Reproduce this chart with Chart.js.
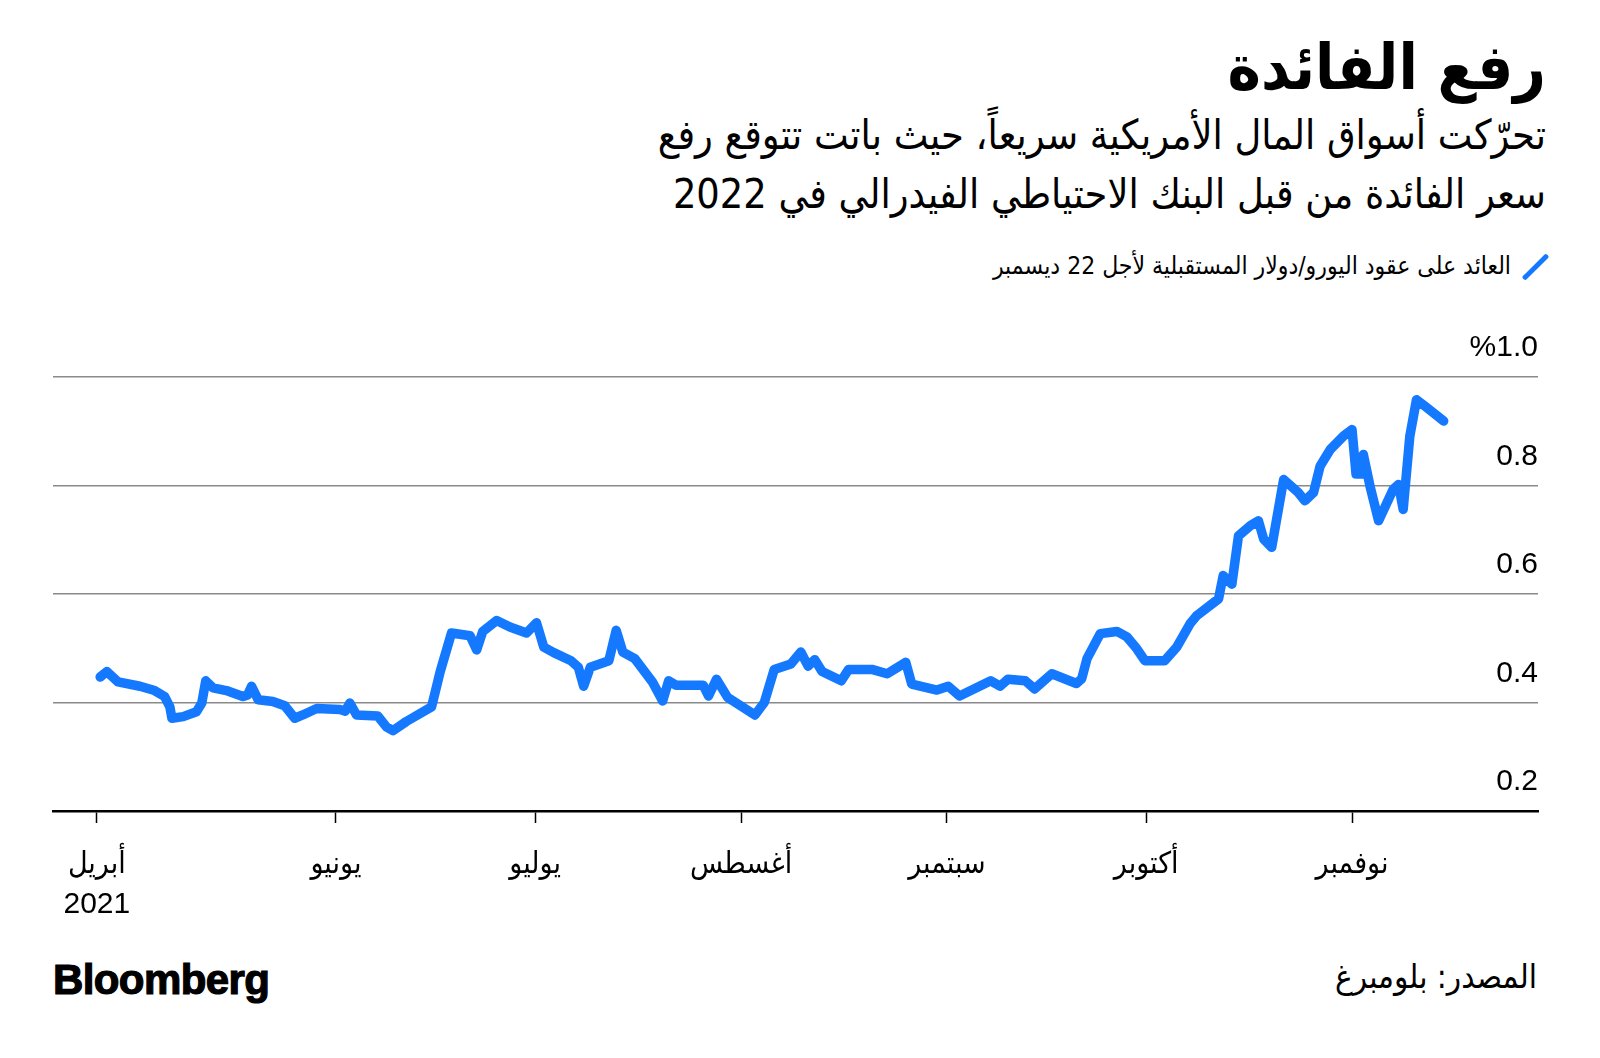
<!DOCTYPE html>
<html lang="ar">
<head>
<meta charset="utf-8">
<title>رفع الفائدة</title>
<script src="https://cdn.jsdelivr.net/npm/chart.js@4.4.1/dist/chart.umd.min.js"></script>
<style>
  html, body { margin: 0; padding: 0; background: #fff; }
  body { width: 1600px; height: 1058px; position: relative; overflow: hidden;
         font-family: "DejaVu Sans Condensed", "DejaVu Sans", sans-serif; color: #000; }
  .rtl { direction: rtl; text-align: right; position: absolute; right: 54px; white-space: nowrap; }
  #title { top: 26px; font-size: 63px; font-weight: bold; line-height: 84px; }
  #sub { top: 106px; font-size: 41px; line-height: 59px; }
  #legend { top: 250px; right: 62px; font-size: 24.5px; line-height: 30px; }
  #legend .mark { display: inline-block; width: 5px; height: 34px; background: #1479ff;
                  transform: rotate(45deg); vertical-align: middle; margin-left: 22px; border-radius: 2px; }
  #chartBox { position: absolute; left: 0; top: 300px; width: 1600px; height: 640px; }
  #logo { position: absolute; left: 53px; top: 955px; font-family: "Liberation Sans", Arial, sans-serif;
          font-weight: bold; font-size: 42px; letter-spacing: -0.6px; line-height: 50px;
          -webkit-text-stroke: 1.2px #000; }
  #source { top: 955px; right: 63px; font-size: 33px; line-height: 44px; }
</style>
</head>
<body>
<div id="title" class="rtl">رفع الفائدة</div>
<div id="sub" class="rtl">تحرّكت أسواق المال الأمريكية سريعاً، حيث باتت تتوقع رفع<br>سعر الفائدة من قبل البنك الاحتياطي الفيدرالي في 2022</div>
<div id="legend" class="rtl"><span class="mark"></span>العائد على عقود اليورو/دولار المستقبلية لأجل 22 ديسمبر</div>
<div id="chartBox"><canvas id="rateChart" width="1600" height="640"></canvas></div>
<div id="logo">Bloomberg</div>
<div id="source" class="rtl">المصدر: بلومبرغ</div>

<script>
// days counted from 1 June 2021
const dayOffsets = [-35.5,-34.5,-32.8,-29.5,-27.3,-25.8,-25.0,-24.7,-23.0,-21.0,-20.2,-19.6,-18.5,-16.5,-14.0,-13.3,-12.7,-11.7,-9.5,-7.7,
  -6.2,-5.0,-2.9,0.6,1.4,2.1,3.1,6.3,7.6,8.6,10.6,14.4,14.9,15.7,17.4,20.2,21.2,22.1,24.2,26.2,
  28.7,30.2,31.3,32.8,35.4,36.5,37.3,38.3,41.1,42.2,43.2,45.0,47.7,49.2,50.1,51.2,55.3,56.1,57.3,59.0,
  63.1,64.5,66.0,68.5,70.0,71.1,72.1,73.2,76.1,77.2,80.7,83.0,85.8,86.7,90.5,92.2,93.9,98.6,100.0,101.2,
  103.8,105.2,107.8,111.5,112.3,113.1,115.1,117.6,119.1,120.6,121.8,124.8,126.6,128.6,129.6,132.9,133.6,134.9,135.9,137.7,
  138.9,139.7,140.9,142.7,144.9,145.9,147.2,148.2,149.7,151.7,153.0,153.6,154.5,154.7,155.7,157.0,159.2,160.0,160.7,161.7,
  162.7,164.0,166.8];

const yields = [0.447,0.457,0.438,0.430,0.422,0.411,0.392,0.371,0.374,0.383,0.399,0.440,0.427,0.422,0.411,0.414,0.430,0.405,0.402,0.394,
  0.371,0.377,0.389,0.387,0.384,0.399,0.377,0.375,0.355,0.348,0.365,0.392,0.417,0.457,0.528,0.523,0.497,0.531,0.551,0.539,
  0.528,0.547,0.502,0.492,0.477,0.465,0.430,0.465,0.477,0.533,0.493,0.481,0.437,0.403,0.440,0.432,0.432,0.412,0.443,0.409,
  0.377,0.400,0.461,0.471,0.493,0.467,0.479,0.457,0.440,0.461,0.461,0.453,0.474,0.434,0.423,0.430,0.412,0.440,0.430,0.443,
  0.440,0.425,0.453,0.435,0.444,0.481,0.527,0.531,0.521,0.499,0.477,0.477,0.502,0.545,0.560,0.591,0.634,0.618,0.707,0.726,
  0.735,0.701,0.686,0.811,0.787,0.772,0.787,0.836,0.866,0.891,0.903,0.821,0.821,0.857,0.799,0.735,0.793,0.802,0.756,0.891,
  0.958,0.946,0.919];

const monthTicks = [-36, 0, 30, 61, 92, 122, 153];
const monthLabels = [['أبريل', '2021'], 'يونيو', 'يوليو', 'أغسطس', 'سبتمبر', 'أكتوبر', 'نوفمبر'];
const yTicks = [0.2, 0.4, 0.6, 0.8, 1.0];

const tickFont = { family: '"Liberation Sans", Arial, "DejaVu Sans Condensed", sans-serif', size: 30 };

document.addEventListener('DOMContentLoaded', function () {
  const ctx = document.getElementById('rateChart').getContext('2d');

  const rateChart = new Chart(ctx, {
    type: 'line',
    data: {
      datasets: [{
        label: 'العائد على عقود اليورو/دولار المستقبلية لأجل 22 ديسمبر',
        data: dayOffsets.map((d, i) => ({ x: d, y: yields[i] })),
        borderColor: '#1479ff',
        borderWidth: 9.5,
        borderJoinStyle: 'round',
        borderCapStyle: 'round',
        pointRadius: 0,
        tension: 0,
        fill: false
      }]
    },
    options: {
      responsive: false,
      animation: false,
      layout: { padding: { left: 53, right: 62, top: 77, bottom: 9 } },
      plugins: {
        legend: { display: false },
        tooltip: { enabled: false }
      },
      scales: {
        x: {
          type: 'linear',
          min: -42.6,
          max: 181,
          afterBuildTicks: scale => { scale.ticks = monthTicks.map(v => ({ value: v })); },
          afterFit: scale => { scale.height = 120; },
          ticks: {
            autoSkip: false,
            maxRotation: 0,
            color: '#000',
            font: { ...tickFont, lineHeight: 1.32 },
            padding: 22,
            callback: value => monthLabels[monthTicks.indexOf(value)]
          },
          grid: { drawOnChartArea: false, drawTicks: true, tickLength: 12, tickColor: '#000', tickWidth: 1.5 },
          border: { display: true, color: '#000', width: 2.5 }
        },
        y: {
          position: 'right',
          min: 0.2,
          max: 1.0,
          afterBuildTicks: scale => { scale.ticks = yTicks.map(v => ({ value: v })); },
          afterFit: scale => { scale.width = 0; },
          ticks: {
            mirror: true,
            padding: 0,
            labelOffset: -29,
            color: '#000',
            font: tickFont,
            callback: value => value === 1 ? '%1.0' : value.toFixed(1)
          },
          grid: {
            drawTicks: false,
            color: c => c.tick && c.tick.value === 0.2 ? 'rgba(0,0,0,0)' : '#8a8a8a',
            lineWidth: 1.5
          },
          border: { display: false }
        }
      }
    }
  });
});
</script>
</body>
</html>
